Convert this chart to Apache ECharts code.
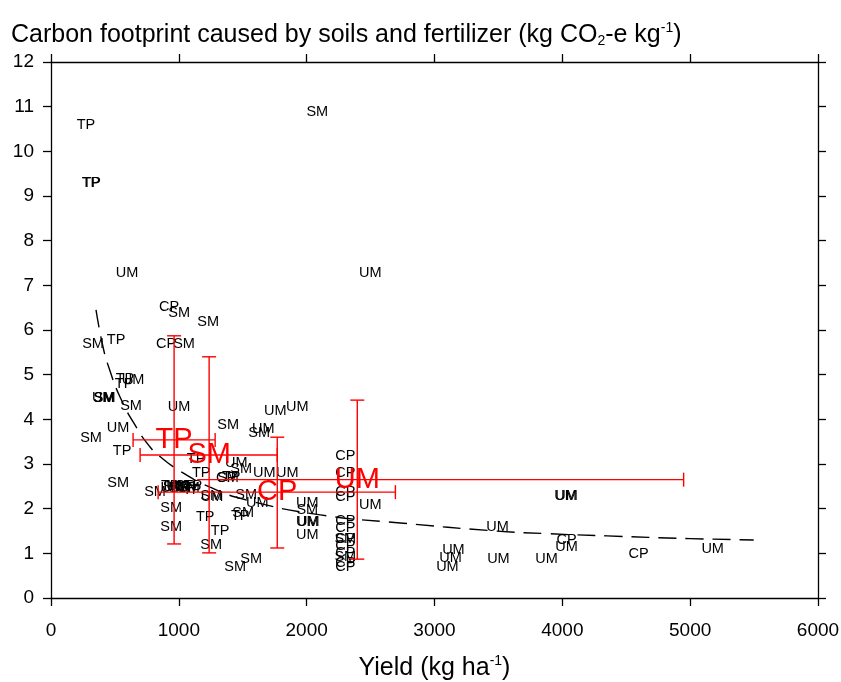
<!DOCTYPE html>
<html>
<head>
<meta charset="utf-8">
<script src="https://cdn.jsdelivr.net/npm/echarts@6/dist/echarts.min.js"></script>
<style>html,body{margin:0;padding:0;background:#fff}#c{width:841px;height:682px}</style>
</head>
<body>
<div id="c"></div>
<script>
// Individual observations: label, yield (kg/ha), carbon footprint
const obsLabel = ["TP","TP","TP","SM","UM","UM","CP","SM","SM","SM","TP","CP","SM","TP","TP","UM","SM","UM","SM","SM","UM","UM","SM","TP","SM","UM","UM","UM","SM","SM","SM",
  "TP","SM","UM","TP","CP","SM","TP","UM","SM","TP",
  "TP","TP","CP","SM","TP","TP","SM","UM","TP","SM","SM","TP","SM","SM","SM","TP","SM","SM","UM","UM","SM","UM","UM",
  "UM","SM","UM","UM","UM",
  "CP","CP","CP","CP","UM","CP","CP","CP","SM","CP","CP","SM","CP","CP",
  "UM","UM","UM","UM","UM","UM","UM","UM","CP","UM","CP","UM"];
const obsX = [274,313,318,2083,595,2498,924,1002,1229,329,509,900,1041,579,572,642,415,408,420,626,1002,525,313,556,1386,1754,1926,1660,1629,525,814,
  932,960,990,1020,1050,1080,1110,945,1005,1065,
  1135,1175,1370,1385,1410,1104,1253,1260,1206,940,940,1323,1253,1441,1566,1480,1503,1527,1613,1449,1488,1668,1848,
  2005,2005,2005,2012,2005,
  2302,2302,2302,2302,2498,2302,2302,2302,2302,2302,2302,2302,2302,2302,
  3148,3125,3101,3493,3500,3876,4025,4033,4033,4033,4597,5176];
const obsY = [10.59,9.29,9.29,10.88,7.28,7.28,6.51,6.38,6.18,5.69,5.78,5.69,5.69,4.90,4.79,4.88,4.48,4.48,4.48,4.30,4.28,3.81,3.58,3.29,3.87,4.19,4.28,3.78,3.69,2.57,2.37,
  2.51,2.48,2.51,2.48,2.50,2.47,2.50,2.47,2.46,2.46,
  3.11,2.80,2.69,2.69,2.70,2.42,2.28,2.26,1.81,2.01,1.59,1.50,1.19,0.69,0.87,1.84,1.90,2.31,2.13,3.02,2.89,2.80,2.80,
  2.13,1.97,1.70,1.70,1.41,
  3.18,2.80,2.37,2.26,2.08,1.72,1.57,1.32,1.32,1.16,1.01,0.92,0.78,0.69,
  1.07,0.90,0.69,1.59,0.87,0.87,2.28,2.28,1.30,1.14,0.98,1.10];

// Group means with error ranges
const meanLabel = ["TP","SM","CP","UM"];
const meanX = [963,1237,1770,2396];
const meanY = [3.54,3.20,2.37,2.65];
const meanXLo = [642,697,838,1143];
const meanXHi = [1284,1770,2694,4949];
const meanYLo = [1.21,1.01,1.12,0.87];
const meanYHi = [5.87,5.40,3.60,4.43];

// Fitted curve
const fitX = [352,407,454,540,666,775,838,994,1245,1535,2107,2733,3477,3884,4350,5000,5497];
const fitY = [6.45,5.62,5.15,4.50,3.83,3.38,3.20,2.87,2.48,2.19,1.86,1.68,1.50,1.44,1.39,1.33,1.30];

// Tick settings
const xTicks = {min:0, max:6000, interval:1000};
const yTicks = {min:0, max:12, interval:1};

const FONT = "'Liberation Sans', Arial, Helvetica, sans-serif";
const chart = echarts.init(document.getElementById('c'));

const obsData = obsX.map((x,i)=>[x, obsY[i], obsLabel[i]]);
const meanData = meanX.map((x,i)=>[x, meanY[i], meanXLo[i], meanXHi[i], meanYLo[i], meanYHi[i], meanLabel[i]]);
const fitData = fitX.map((x,i)=>[x, fitY[i]]);

const axisLineStyle = {color:'#000', width:1.3};
function xAx(pos, showLabel){
  return {type:'value', position:pos, min:xTicks.min, max:xTicks.max, interval:xTicks.interval,
    axisLine:{show:true, onZero:false, lineStyle:axisLineStyle},
    axisTick:{show:true, inside:false, length:8, lineStyle:axisLineStyle},
    axisLabel:{show:showLabel, color:'#000', fontSize:19, fontFamily:FONT, margin:23, formatter:v=>String(v)},
    splitLine:{show:false}};
}
function yAx(pos, showLabel){
  return {type:'value', position:pos, min:yTicks.min, max:yTicks.max, interval:yTicks.interval,
    axisLine:{show:true, onZero:false, lineStyle:axisLineStyle},
    axisTick:{show:true, inside:false, length:8, lineStyle:axisLineStyle},
    axisLabel:{show:showLabel, color:'#000', fontSize:19, fontFamily:FONT, margin:17, formatter:v=>String(v)},
    splitLine:{show:false}};
}
const xb = xAx('bottom', true);
xb.name = 'Yield (kg ha{sup|-1})';
xb.nameLocation = 'middle';
xb.nameGap = 56;
xb.nameTextStyle = {color:'#000', fontSize:25, fontFamily:FONT,
  rich:{sup:{fontSize:14, fontFamily:FONT, color:'#000', padding:[0,0,14,0]}}};

const lblBase = {show:true, position:'inside', formatter:p=>p.value[2], fontFamily:FONT,
  textBorderWidth:0, textShadowBlur:0, opacity:1};

chart.setOption({
  animation:false,
  backgroundColor:'#fff',
  title:{text:'Carbon footprint caused by soils and fertilizer (kg CO{sub|2}-e kg{sup|-1})',
    left:6, top:16,
    textStyle:{color:'#000', fontSize:25, fontWeight:'normal', fontFamily:FONT,
      rich:{sub:{fontSize:14, fontFamily:FONT, color:'#000', padding:[12,0,0,0]},
            sup:{fontSize:14, fontFamily:FONT, color:'#000', padding:[0,0,14,0]}}}},
  grid:{left:51, right:23, top:62, bottom:84, containLabel:false, outerBoundsMode:'none'},
  xAxis:[xb, xAx('top', false)],
  yAxis:[yAx('left', true), yAx('right', false)],
  series:[
    {type:'scatter', data:obsData, symbolSize:1, itemStyle:{color:'rgba(0,0,0,0)'}, z:2,
      label:Object.assign({}, lblBase, {color:'#000000', fontSize:14.5})},
    {type:'line', data:fitData, smooth:true, showSymbol:false, symbol:'none', z:3,
      lineStyle:{color:'#000', width:1.4, type:[18,9]}},
    {type:'custom', data:meanData, z:4, clip:true,
      renderItem:(params, api)=>{
        const x = api.value(0), y = api.value(1);
        const xl = api.value(2), xh = api.value(3), yl = api.value(4), yh = api.value(5);
        const pL = api.coord([xl,y]), pR = api.coord([xh,y]);
        const pB = api.coord([x,yl]), pT = api.coord([x,yh]);
        const st = {stroke:'#ff0000', lineWidth:1.4};
        const c = 7;
        const kids = [
          {type:'line', shape:{x1:pL[0],y1:pL[1],x2:pR[0],y2:pR[1]}, style:st},
          {type:'line', shape:{x1:pR[0],y1:pR[1]-c,x2:pR[0],y2:pR[1]+c}, style:st},
          {type:'line', shape:{x1:pB[0],y1:pB[1],x2:pT[0],y2:pT[1]}, style:st},
          {type:'line', shape:{x1:pB[0]-c,y1:pB[1],x2:pB[0]+c,y2:pB[1]}, style:st},
          {type:'line', shape:{x1:pT[0]-c,y1:pT[1],x2:pT[0]+c,y2:pT[1]}, style:st}
        ];
        if (params.dataIndex !== 3) {
          kids.push({type:'line', shape:{x1:pL[0],y1:pL[1]-c,x2:pL[0],y2:pL[1]+c}, style:st});
        }
        return {type:'group', children:kids};
      }},
    {type:'scatter', data:meanData.map(d=>[d[0],d[1],d[6]]), symbolSize:1, itemStyle:{color:'rgba(0,0,0,0)'}, z:5,
      label:Object.assign({}, lblBase, {color:'#ff0000', fontSize:29})}
  ]
});
</script>
</body>
</html>
